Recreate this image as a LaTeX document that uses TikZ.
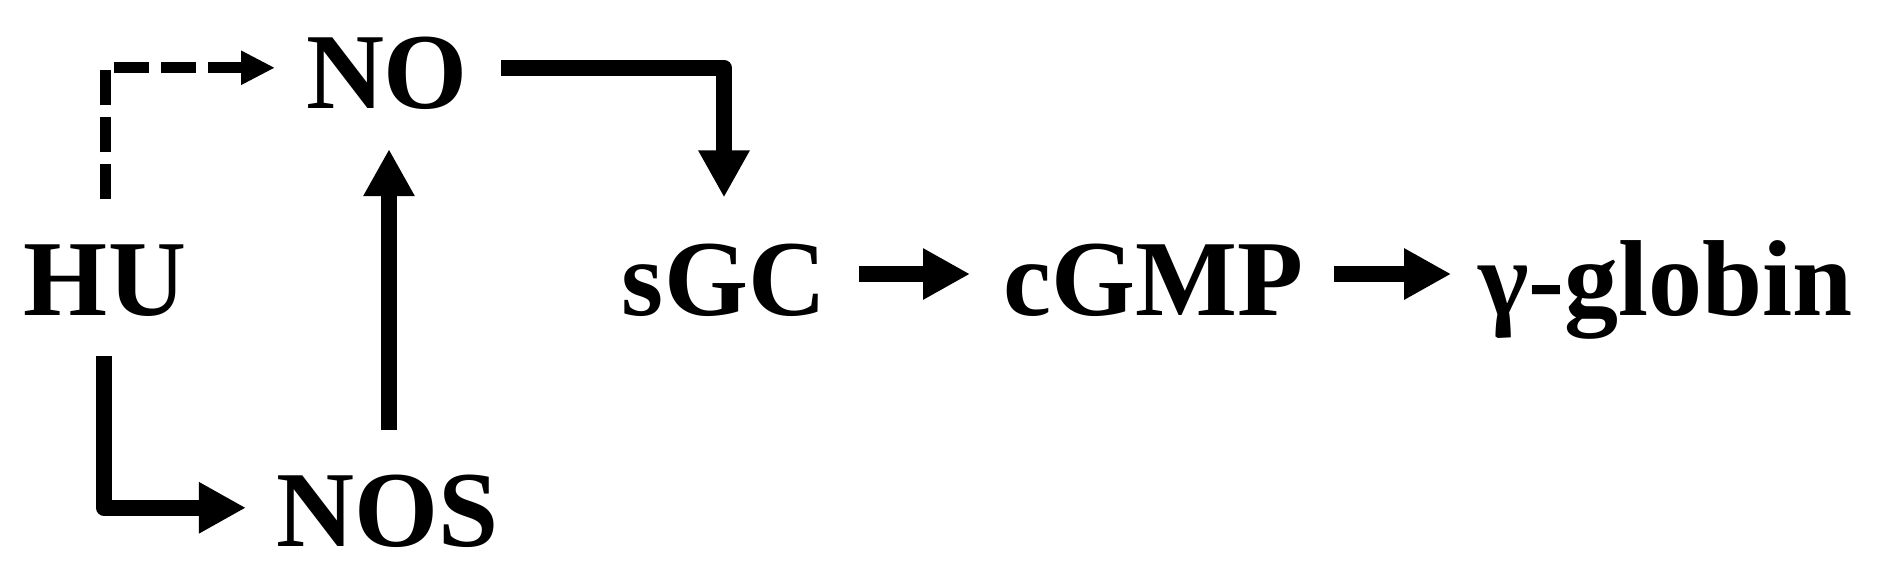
\documentclass[tikz,border=0pt]{standalone}
\usepackage{fontspec}
\setmainfont{Liberation Serif}
\usetikzlibrary{arrows.meta,calc}
\definecolor{pathcolor0000}{RGB}{0,0,0}

\begin{document}
\begin{tikzpicture}[yscale=-1
,pstyle0/.style={color=pathcolor0000,inner sep=0pt,outer sep=0pt,anchor=base,font=\fontsize{54pt}{60pt}\selectfont\bfseries}
,pstyle1/.style={color=pathcolor0000,line width=8pt,line join=round,-{Triangle[length=23.5pt,width=24pt]}}
,pstyle2/.style={color=pathcolor0000,line width=5.5pt,dash pattern=on 17.5pt off 6pt,-{Triangle[length=17pt,width=16pt]}}
]
\useasboundingbox (0pt,0pt) rectangle (940.5pt,289.5pt);
\node (hu) at (52.5pt,157.5pt)[pstyle0]{HU};
\node (no) at (193.5pt,54pt)[pstyle0]{NO};
\node (nos) at (194pt,273pt)[pstyle0]{NOS};
\node (sgc) at (362pt,157.5pt)[pstyle0]{sGC};
\node (cgmp) at (576.5pt,157.5pt)[pstyle0]{cGMP};
\node (glob) at (832.75pt,157.5pt)[pstyle0]{γ-globin};
\draw[pstyle2] ($(hu.north)+(0pt,-22.5pt)$) |- ($(no.west)+(-15.5pt,-2.5pt)$);
\draw[pstyle1] ($(hu.south)+(-0.5pt,20pt)$) |- ($(nos.west)+(-15.5pt,-1.5pt)$);
\coordinate (nosup) at ($(nos.north)+(0.5pt,-22.5pt)$);
\coordinate (nodown) at ($(no.south)+(0pt,20pt)$);
\draw[pstyle1] (nosup) -- (nosup |- nodown);
\draw[pstyle1] ($(no.east)+(16.5pt,-2.5pt)$) -| ($(sgc.north)+(0pt,-23pt)$);
\draw[pstyle1] ($(sgc.base east)+(16.5pt,-20.5pt)$) -- ($(cgmp.base west)+(-16.5pt,-20.5pt)$);
\draw[pstyle1] ($(cgmp.base east)+(15.5pt,-20.5pt)$) -- ($(glob.base west)+(-13.5pt,-20.5pt)$);
\end{tikzpicture}
\end{document}
